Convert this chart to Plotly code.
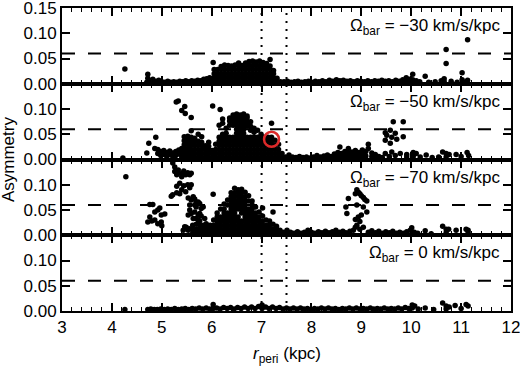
import plotly.graph_objects as go
from plotly.subplots import make_subplots

# ---------------- data (x = r_peri in kpc, list of asymmetry values at that x) ----------------
panel_labels = ["\u03a9<sub>bar</sub> = \u221230 km/s/kpc", "\u03a9<sub>bar</sub> = \u221250 km/s/kpc",
                "\u03a9<sub>bar</sub> = \u221270 km/s/kpc", "\u03a9<sub>bar</sub> = 0 km/s/kpc"]

m30_cols = [
    (4.26, [0.029]), (4.70, [0.003]), (4.72, [0.019, 0.011]), (4.77, [0.006]), (4.82, [0.004, 0.009]),
    (4.88, [0.005]), (4.94, [0.003, 0.007]), (5.00, [0.004]), (5.06, [0.003]), (5.12, [0.005]),
    (5.18, [0.003]), (5.24, [0.004]), (5.30, [0.003]), (5.36, [0.005]), (5.42, [0.004]), (5.48, [0.006]),
    (5.54, [0.004]), (5.60, [0.006]), (5.66, [0.005]), (5.72, [0.007]), (5.78, [0.006]),
    (5.84, [0.009, 0.004]), (5.90, [0.010, 0.005]), (5.96, [0.012, 0.004]), (6.03, [0.042]),
    (6.05, [0.004, 0.012, 0.020, 0.028]),
    (6.12, [0.004, 0.012, 0.020, 0.028]),
    (6.19, [0.004, 0.012, 0.020, 0.028, 0.034]),
    (6.26, [0.004, 0.012, 0.020, 0.028, 0.037]),
    (6.33, [0.004, 0.012, 0.020, 0.028, 0.036]),
    (6.40, [0.004, 0.012, 0.020, 0.028, 0.035]),
    (6.47, [0.004, 0.012, 0.020, 0.028, 0.037]),
    (6.54, [0.004, 0.012, 0.020, 0.028, 0.036, 0.041]),
    (6.61, [0.004, 0.012, 0.020, 0.028, 0.036]),
    (6.68, [0.004, 0.012, 0.020, 0.028, 0.036, 0.041]),
    (6.75, [0.004, 0.012, 0.020, 0.028, 0.036, 0.044]),
    (6.82, [0.004, 0.012, 0.020, 0.028, 0.036, 0.045]),
    (6.89, [0.004, 0.012, 0.020, 0.028, 0.036, 0.043]),
    (6.96, [0.004, 0.012, 0.020, 0.028, 0.036, 0.045]),
    (7.03, [0.004, 0.012, 0.020, 0.028, 0.036, 0.042]),
    (7.10, [0.004, 0.012, 0.020, 0.028, 0.036, 0.040]),
    (7.17, [0.004, 0.012, 0.020, 0.028, 0.035, 0.048]),
    (7.24, [0.004, 0.012, 0.020, 0.026]),
    (7.31, [0.004, 0.011]), (7.38, [0.004]),
    (7.45, [0.004]), (7.52, [0.005]), (7.59, [0.003]), (7.66, [0.004]), (7.73, [0.005]), (7.80, [0.003]),
    (7.87, [0.004]), (7.94, [0.005]), (8.01, [0.003]), (8.08, [0.005]), (8.15, [0.004]), (8.22, [0.006]),
    (8.29, [0.004]), (8.36, [0.007]), (8.43, [0.005]), (8.50, [0.008, 0.003]), (8.57, [0.006]),
    (8.64, [0.007]), (8.71, [0.005]), (8.78, [0.006]), (8.85, [0.004]), (8.92, [0.006]), (8.99, [0.005]),
    (9.06, [0.004]), (9.13, [0.006]), (9.20, [0.004]), (9.27, [0.006]), (9.34, [0.005]), (9.41, [0.007]),
    (9.48, [0.005]), (9.55, [0.006]), (9.62, [0.004]), (9.69, [0.007]), (9.76, [0.005]), (9.83, [0.008]),
    (9.90, [0.006, 0.012]), (9.97, [0.009, 0.004]), (10.03, [0.019, 0.008]), (10.10, [0.006]),
    (10.17, [0.004]), (10.28, [0.015]), (10.35, [0.003]), (10.48, [0.004]), (10.60, [0.006]),
    (10.66, [0.010, 0.004]), (10.70, [0.040, 0.068]), (10.80, [0.005]), (10.92, [0.003]),
    (11.02, [0.022, 0.008]), (11.10, [0.004]), (11.13, [0.087, 0.007]),
]

m50_cols = [
    (4.22, [0.003]), (4.70, [0.013]), (4.74, [0.032]), (4.86, [0.022]), (4.88, [0.044]),
    (4.92, [0.012, 0.020]), (4.98, [0.008, 0.016]), (5.04, [0.010, 0.018]), (5.10, [0.006, 0.014]),
    (5.16, [0.010, 0.017]), (5.22, [0.006, 0.013]), (5.28, [0.008, 0.016]), (5.34, [0.011, 0.019]),
    (5.40, [0.005, 0.014, 0.022]),
    (5.29, [0.114]), (5.33, [0.116]), (5.46, [0.105]), (5.40, [0.097]), (5.47, [0.091]), (5.59, [0.083]),
    (6.02, [0.106]), (6.17, [0.099]),
    (5.45, [0.005, 0.013, 0.021, 0.029, 0.037, 0.045]),
    (5.52, [0.006, 0.014, 0.022, 0.030, 0.038, 0.046]),
    (5.59, [0.004, 0.012, 0.020, 0.028, 0.036, 0.044, 0.057]),
    (5.66, [0.004, 0.012, 0.020, 0.028, 0.036, 0.042]),
    (5.73, [0.004, 0.012, 0.020, 0.028, 0.036, 0.050]),
    (5.80, [0.004, 0.012, 0.020, 0.028, 0.034, 0.045]),
    (5.87, [0.004, 0.012, 0.020, 0.027]),
    (5.94, [0.004, 0.012, 0.019, 0.026, 0.034]),
    (6.01, [0.004, 0.012, 0.018]),
    (6.08, [0.004, 0.012, 0.020, 0.030]),
    (6.15, [0.004, 0.012, 0.020, 0.028, 0.036, 0.044, 0.068]),
    (6.22, [0.004, 0.012, 0.020, 0.028, 0.036, 0.044, 0.050, 0.072, 0.080]),
    (6.29, [0.004, 0.012, 0.020, 0.028, 0.036, 0.044, 0.052, 0.062]),
    (6.36, [0.004, 0.012, 0.020, 0.028, 0.036, 0.044, 0.068, 0.076, 0.082]),
    (6.43, [0.004, 0.012, 0.020, 0.028, 0.036, 0.044, 0.068, 0.076, 0.084, 0.088]),
    (6.50, [0.004, 0.012, 0.020, 0.028, 0.036, 0.044, 0.052, 0.060, 0.068, 0.076, 0.084, 0.090]),
    (6.57, [0.004, 0.012, 0.020, 0.028, 0.036, 0.044, 0.052, 0.060, 0.068, 0.076, 0.084, 0.088]),
    (6.64, [0.004, 0.012, 0.020, 0.028, 0.036, 0.044, 0.052, 0.060, 0.068, 0.076, 0.084, 0.090]),
    (6.71, [0.004, 0.012, 0.020, 0.028, 0.036, 0.044, 0.066, 0.074, 0.082, 0.086]),
    (6.78, [0.004, 0.012, 0.020, 0.028, 0.036, 0.044, 0.058, 0.066, 0.075]),
    (6.85, [0.004, 0.012, 0.020, 0.028, 0.036, 0.044, 0.054, 0.062]),
    (6.92, [0.004, 0.012, 0.020, 0.028, 0.036, 0.044, 0.058]),
    (6.99, [0.004, 0.012, 0.020, 0.028, 0.036, 0.044, 0.050]),
    (7.06, [0.004, 0.012, 0.020, 0.028, 0.036, 0.044]),
    (7.13, [0.004, 0.012, 0.020, 0.028, 0.036, 0.044]),
    (7.20, [0.004, 0.012, 0.020, 0.028, 0.036, 0.044, 0.072]),
    (7.27, [0.004, 0.012, 0.020, 0.028, 0.038]),
    (7.34, [0.004, 0.012, 0.020, 0.030]),
    (7.41, [0.004, 0.012]),
    (7.48, [0.005]), (7.55, [0.004, 0.009]), (7.62, [0.005]), (7.69, [0.004]), (7.76, [0.006]),
    (7.83, [0.004]), (7.90, [0.005]), (7.97, [0.003]), (8.04, [0.005]), (8.11, [0.004, 0.008]),
    (8.18, [0.005]), (8.25, [0.007]), (8.32, [0.004, 0.009]), (8.39, [0.006]), (8.46, [0.004, 0.011]),
    (8.53, [0.007, 0.014]), (8.57, [0.025]), (8.60, [0.005, 0.012]), (8.67, [0.008, 0.016]),
    (8.74, [0.005, 0.013, 0.022]), (8.81, [0.007, 0.015]), (8.88, [0.005, 0.012, 0.018]),
    (8.95, [0.008, 0.014]), (9.02, [0.005, 0.012, 0.019]), (9.09, [0.007, 0.016]), (9.14, [0.030, 0.022]),
    (9.21, [0.006, 0.013]), (9.28, [0.004, 0.010]), (9.35, [0.006]), (9.42, [0.004]),
    (9.48, [0.053, 0.038, 0.012]), (9.51, [0.048]), (9.56, [0.006]), (9.58, [0.058, 0.032]),
    (9.61, [0.044, 0.015]), (9.64, [0.075]), (9.68, [0.052, 0.008]), (9.71, [0.040]),
    (9.78, [0.012]), (9.84, [0.075, 0.045]), (9.91, [0.010, 0.005]), (10.04, [0.014, 0.006]),
    (10.10, [0.012]), (10.18, [0.005]), (10.30, [0.009]), (10.42, [0.004]), (10.55, [0.005]),
    (10.63, [0.015]), (10.70, [0.012, 0.005]), (10.76, [0.010]), (10.90, [0.010]), (11.00, [0.006]),
    (11.12, [0.014]), (11.15, [0.008]),
]

m70_cols = [
    (4.28, [0.116]),
    (4.72, [0.026]), (4.76, [0.036, 0.061]), (4.80, [0.028]), (4.82, [0.061]), (4.86, [0.030, 0.046]),
    (4.92, [0.023, 0.050]), (4.96, [0.054]), (4.99, [0.026, 0.040]), (5.00, [0.019]), (5.06, [0.042]),
    (5.19, [0.077]), (5.22, [0.080, 0.143]), (5.26, [0.126, 0.135]), (5.30, [0.084, 0.097, 0.120]),
    (5.33, [0.124, 0.129]), (5.36, [0.082, 0.103]), (5.40, [0.090, 0.116, 0.122]), (5.44, [0.098, 0.127]),
    (5.48, [0.086, 0.120]), (5.52, [0.100, 0.124]), (5.56, [0.120, 0.094]), (5.59, [0.100, 0.123]),
    (5.43, [0.010]), (5.46, [0.017]), (5.49, [0.016]), (5.53, [0.074, 0.040, 0.010]),
    (5.56, [0.060, 0.050, 0.013]), (5.59, [0.070, 0.043]), (5.63, [0.076, 0.033]),
    (5.66, [0.072, 0.060, 0.046]), (5.69, [0.066, 0.056, 0.033]), (5.73, [0.066, 0.040, 0.030]),
    (5.76, [0.063, 0.043]), (5.79, [0.053, 0.038]), (5.83, [0.056]), (5.86, [0.033]), (5.89, [0.023]),
    (6.03, [0.081]),
    (5.62, [0.004, 0.012, 0.020]),
    (5.69, [0.004, 0.012, 0.022]),
    (5.76, [0.004, 0.012, 0.020, 0.028]),
    (5.83, [0.004, 0.012, 0.020]),
    (5.90, [0.004, 0.012, 0.018]),
    (5.97, [0.004, 0.012, 0.020]),
    (6.04, [0.004, 0.012, 0.020, 0.030]),
    (6.11, [0.004, 0.012, 0.020, 0.028, 0.036, 0.044]),
    (6.18, [0.004, 0.012, 0.020, 0.028, 0.036, 0.052]),
    (6.25, [0.004, 0.012, 0.020, 0.028, 0.036, 0.044, 0.052, 0.062]),
    (6.32, [0.004, 0.012, 0.020, 0.028, 0.036, 0.044, 0.060, 0.070]),
    (6.39, [0.004, 0.012, 0.020, 0.028, 0.036, 0.044, 0.052, 0.060, 0.068, 0.076, 0.084]),
    (6.46, [0.004, 0.012, 0.020, 0.028, 0.036, 0.044, 0.052, 0.060, 0.068, 0.076, 0.084, 0.093]),
    (6.53, [0.004, 0.012, 0.020, 0.028, 0.036, 0.052, 0.060, 0.068, 0.076, 0.084, 0.090]),
    (6.60, [0.004, 0.012, 0.020, 0.028, 0.044, 0.052, 0.060, 0.068, 0.076, 0.084, 0.091]),
    (6.67, [0.004, 0.012, 0.020, 0.028, 0.036, 0.044, 0.052, 0.060, 0.068, 0.076, 0.085]),
    (6.74, [0.004, 0.012, 0.020, 0.028, 0.036, 0.044, 0.052, 0.068, 0.078]),
    (6.81, [0.004, 0.012, 0.020, 0.028, 0.036, 0.044, 0.052, 0.060, 0.068]),
    (6.88, [0.004, 0.012, 0.020, 0.028, 0.036, 0.044, 0.056]),
    (6.95, [0.004, 0.012, 0.020, 0.028, 0.036, 0.046]),
    (7.02, [0.004, 0.012, 0.020, 0.028, 0.038, 0.054]),
    (7.09, [0.004, 0.012, 0.020, 0.030]),
    (7.16, [0.004, 0.012, 0.020, 0.028]),
    (7.23, [0.004, 0.012, 0.022, 0.046]),
    (7.30, [0.004, 0.012, 0.018]),
    (7.37, [0.004, 0.010]),
    (7.44, [0.006]), (7.51, [0.004, 0.010]), (7.58, [0.006]), (7.65, [0.004]), (7.72, [0.007]),
    (7.79, [0.004]), (7.86, [0.006]), (7.93, [0.004, 0.010]), (8.00, [0.006]), (8.07, [0.004]),
    (8.14, [0.007]), (8.21, [0.005]), (8.28, [0.008]), (8.35, [0.005]), (8.42, [0.007]),
    (8.49, [0.004, 0.010]), (8.56, [0.006]), (8.63, [0.008]), (8.69, [0.005, 0.056]), (8.71, [0.043]),
    (8.74, [0.073]), (8.77, [0.008]), (8.84, [0.010]), (8.88, [0.082, 0.031, 0.016]),
    (8.91, [0.090, 0.060, 0.020]), (8.94, [0.085, 0.036]), (8.97, [0.082, 0.027, 0.012]),
    (9.00, [0.078, 0.040]), (9.04, [0.075, 0.056, 0.016]), (9.07, [0.071]), (9.11, [0.068, 0.046]),
    (9.14, [0.006]), (9.21, [0.009]), (9.28, [0.005]), (9.35, [0.008]), (9.42, [0.004]), (9.49, [0.007]),
    (9.56, [0.005]), (9.63, [0.008]), (9.70, [0.004]), (9.77, [0.006]), (9.84, [0.004]), (9.91, [0.007]),
    (9.98, [0.010]), (10.01, [0.015]), (10.06, [0.006]), (10.13, [0.004]), (10.28, [0.009]),
    (10.40, [0.003]), (10.63, [0.018]), (10.70, [0.012, 0.005]), (10.75, [0.012]), (10.90, [0.010]),
    (11.10, [0.012]), (11.14, [0.010, 0.005]),
]

zero_cols = [
    (4.26, [0.003]), (4.72, [0.003]), (4.78, [0.004]), (4.85, [0.003]),
    (4.91, [0.003]), (4.98, [0.004]), (5.05, [0.003]), (5.12, [0.004]), (5.19, [0.003]), (5.26, [0.005]),
    (5.33, [0.003]), (5.40, [0.004]), (5.47, [0.005]), (5.54, [0.003]), (5.61, [0.005]), (5.68, [0.004]),
    (5.75, [0.006]), (5.82, [0.004]), (5.89, [0.006]), (5.96, [0.004]), (6.03, [0.013, 0.005]),
    (6.10, [0.006]), (6.17, [0.004]), (6.24, [0.007]), (6.31, [0.005]), (6.38, [0.007]), (6.45, [0.004]),
    (6.52, [0.007]), (6.59, [0.005]), (6.66, [0.008]), (6.73, [0.005]), (6.80, [0.008]), (6.87, [0.005]),
    (6.94, [0.009]), (7.01, [0.005, 0.012]), (7.08, [0.008]), (7.15, [0.005]), (7.22, [0.008]),
    (7.29, [0.005]), (7.36, [0.007]), (7.43, [0.004]), (7.50, [0.006]), (7.57, [0.004]), (7.64, [0.006]),
    (7.71, [0.004]), (7.78, [0.006]), (7.85, [0.004]), (7.92, [0.005]), (7.99, [0.003]), (8.06, [0.005]),
    (8.13, [0.004]), (8.20, [0.006]), (8.27, [0.004]), (8.34, [0.006]), (8.41, [0.004]), (8.48, [0.005]),
    (8.55, [0.003]), (8.62, [0.005]), (8.69, [0.004]), (8.76, [0.006]), (8.83, [0.004]), (8.90, [0.006]),
    (8.97, [0.004]), (9.04, [0.005]), (9.11, [0.004]), (9.18, [0.006]), (9.25, [0.004]), (9.32, [0.005]),
    (9.39, [0.004]), (9.46, [0.006]), (9.53, [0.004]), (9.60, [0.005]), (9.67, [0.004]), (9.74, [0.006]),
    (9.81, [0.004]), (9.88, [0.007]), (9.95, [0.005]), (10.02, [0.012, 0.006]), (10.07, [0.010]),
    (10.14, [0.004]), (10.28, [0.006]), (10.45, [0.003]), (10.63, [0.016]), (10.70, [0.010, 0.004]),
    (10.76, [0.008]), (10.88, [0.011]), (11.00, [0.005]), (11.10, [0.013]), (11.14, [0.010]),
]

highlight_x = [7.20]
highlight_y = [0.040]
threshold = 0.06
corotation_lines = [7.0, 7.5]
x_range = [3, 12]
y_range = [0, 0.15]

# ---------------- figure ----------------
FONT = "Liberation Sans, Arial, Helvetica, sans-serif"
fig = make_subplots(rows=4, cols=1, shared_xaxes=True, vertical_spacing=0)

def flatten(cols):
    xs, ys = [], []
    for x, yl in cols:
        for y in yl:
            xs.append(x)
            ys.append(y)
    return xs, ys

for i, cols in enumerate([m30_cols, m50_cols, m70_cols, zero_cols]):
    xs, ys = flatten(cols)
    fig.add_trace(go.Scatter(x=xs, y=ys, mode="markers",
                             marker=dict(color="black", size=5.5, line=dict(width=0)),
                             showlegend=False, cliponaxis=False), row=i + 1, col=1)
    fig.add_shape(type="line", x0=x_range[0], x1=x_range[1], y0=threshold, y1=threshold,
                  line=dict(color="black", width=2, dash="13px,13px"), row=i + 1, col=1)
    fig.add_annotation(text=panel_labels[i], xref=f"x{'' if i == 0 else i + 1} domain",
                       yref=f"y{'' if i == 0 else i + 1} domain", x=1, y=1, xanchor="right",
                       yanchor="top", xshift=-9, yshift=-6, showarrow=False,
                       font=dict(family=FONT, size=17, color="black"))

fig.add_trace(go.Scatter(x=highlight_x, y=highlight_y, mode="markers",
                         marker=dict(symbol="circle-open", size=15, color="#dd2a2a", line=dict(width=2.5)),
                         showlegend=False, cliponaxis=False), row=2, col=1)

for xv in corotation_lines:
    fig.add_shape(type="line", x0=xv, x1=xv, y0=0, y1=1, xref="x", yref="paper",
                  line=dict(color="black", width=2, dash="2px,6px"))

for i in range(1, 5):
    fig.update_xaxes(range=x_range, showline=True, linewidth=2, linecolor="black", mirror="ticks",
                     ticks="inside", ticklen=8, tickwidth=1.5, tickcolor="black", dtick=1,
                     minor=dict(ticks="inside", ticklen=4, tickwidth=1.2, dtick=0.2, tickcolor="black"),
                     showgrid=False, zeroline=False, automargin=False, ticklabeloverflow="allow",
                     tickfont=dict(family=FONT, size=17, color="black"),
                     showticklabels=(i == 4), row=i, col=1)
    fig.update_yaxes(range=y_range, showline=True, linewidth=2, linecolor="black", mirror="ticks",
                     ticks="inside", ticklen=8, tickwidth=1.5, tickcolor="black",
                     tickvals=[0, 0.05, 0.10, 0.15] if i == 1 else [0, 0.05, 0.10],
                     tickformat=".2f", showgrid=False, zeroline=False, automargin=False,
                     ticklabeloverflow="allow",
                     tickfont=dict(family=FONT, size=17, color="black"), row=i, col=1)

fig.add_annotation(text="Asymmetry", xref="paper", yref="paper", x=-0.119, y=0.5, textangle=-90,
                   xanchor="center", yanchor="middle", showarrow=False,
                   font=dict(family=FONT, size=17, color="black"))
fig.add_annotation(text="<i>r</i><sub>peri</sub> (kpc)", xref="paper", yref="paper", x=0.5, y=-0.145,
                   xanchor="center", yanchor="middle", showarrow=False,
                   font=dict(family=FONT, size=17, color="black"))

fig.update_layout(width=520, height=366, margin=dict(l=62, r=9, t=8, b=55, autoexpand=False),
                  paper_bgcolor="white", plot_bgcolor="white")
fig.write_html("out.html")
